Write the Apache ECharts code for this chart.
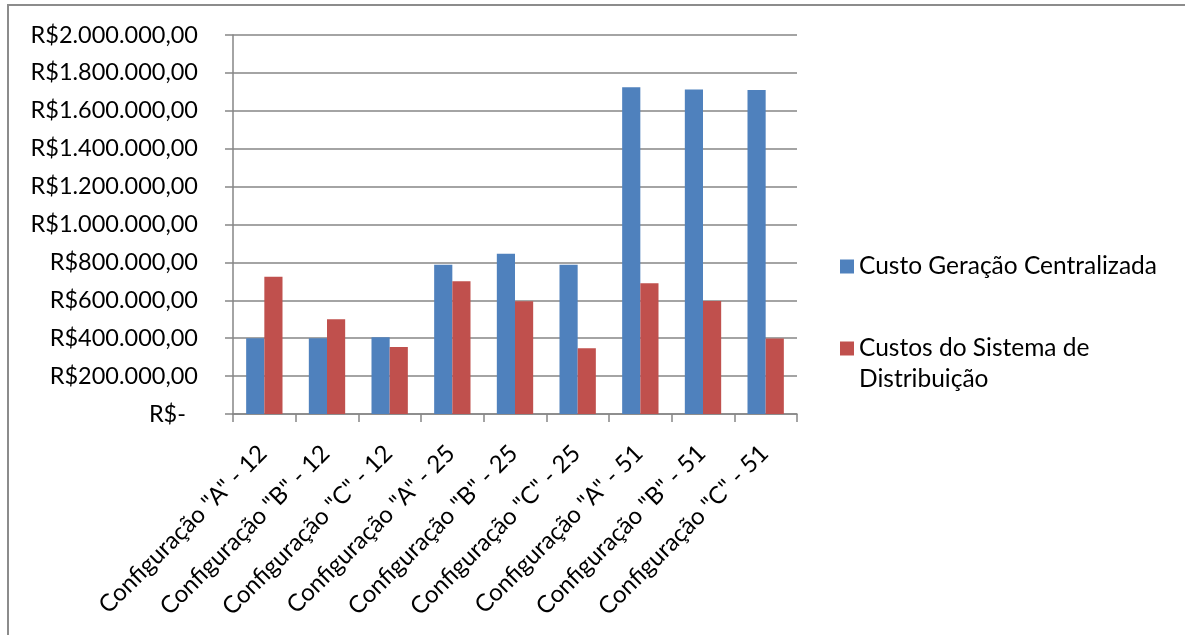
<!DOCTYPE html>
<html>
<head>
<meta charset="utf-8">
<script src="https://cdn.jsdelivr.net/npm/echarts@6/dist/echarts.min.js"></script>
<style>
  html, body { margin: 0; padding: 0; background: #fff; }
  #wrap { position: relative; width: 1185px; height: 635px; overflow: hidden; }
  #frame {
    position: absolute; left: 7px; top: 4px; right: -10px; bottom: -10px;
    border-top: 2px solid #8c8c8c; border-left: 2px solid #8c8c8c;
    pointer-events: none;
  }
  #chart { position: absolute; left: 0; top: 0; width: 1185px; height: 635px; }
</style>
</head>
<body>
<div id="wrap">
  <div id="chart"></div>
  <div id="frame"></div>
</div>
<script>
// categorias e valores
const categorias = [
  'Configuração "A" - 12', 'Configuração "B" - 12', 'Configuração "C" - 12',
  'Configuração "A" - 25', 'Configuração "B" - 25', 'Configuração "C" - 25',
  'Configuração "A" - 51', 'Configuração "B" - 51', 'Configuração "C" - 51'
]
const nomeGeracao = 'Custo Geração Centralizada'
const nomeDistribuicao = 'Custos do Sistema de Distribuição'
const custoGeracao = [400000, 400000, 405000, 787000, 845000, 787000, 1724000, 1713000, 1710000]
const custoDistribuicao = [724000, 500000, 354000, 700000, 595000, 347000, 690000, 596000, 399000]

const fonte = 'Lato'

function moeda (v) {
  if (v === 0) return 'R$-  '
  let s = String(Math.round(v))
  s = s.replace(/\B(?=(\d{3})+(?!\d))/g, '.')
  return 'R$' + s + ',00'
}

let myChart = echarts.init(document.getElementById('chart'))
let option = {
  animation: false,
  textStyle: { fontFamily: fonte, color: '#000' },
  grid: { left: 233, right: 388, top: 35, bottom: 221 },
  legend: {
    orient: 'vertical',
    left: 840,
    top: 251,
    padding: 0,
    itemGap: 20,
    itemWidth: 14,
    itemHeight: 14,
    icon: 'rect',
    textStyle: { fontFamily: fonte, fontSize: 24.5, color: '#000', lineHeight: 31 },
    // linha vazia no início para o quadrado ficar alinhado com a 1a linha
    formatter: function (name) {
      return name === nomeDistribuicao ? '\nCustos do Sistema de\nDistribuição' : name
    },
    data: [nomeGeracao, nomeDistribuicao]
  },
  xAxis: {
    type: 'category',
    data: categorias,
    axisLine: { lineStyle: { color: '#868686', width: 1.5 } },
    axisTick: { show: true, length: 8, lineStyle: { color: '#868686', width: 1.5 } },
    axisLabel: {
      rotate: 45,
      interval: 0,
      margin: 17,
      padding: [0, 14, 0, 0],
      fontFamily: fonte,
      fontSize: 24,
      color: '#000',
      verticalAlign: 'top'
    }
  },
  yAxis: {
    type: 'value',
    min: 0,
    max: 2000000,
    interval: 200000,
    axisLine: { show: true, lineStyle: { color: '#868686', width: 1.5 } },
    axisTick: { show: true, length: 8, lineStyle: { color: '#868686', width: 1.5 } },
    splitLine: { show: true, lineStyle: { color: '#868686', width: 1.5 } },
    axisLabel: {
      margin: 35,
      fontFamily: fonte,
      fontSize: 23.5,
      color: '#000',
      formatter: moeda
    }
  },
  series: [
    {
      name: nomeGeracao,
      type: 'bar',
      data: custoGeracao,
      barGap: '0%',
      barCategoryGap: '42%',
      itemStyle: { color: '#4F81BD' }
    },
    {
      name: nomeDistribuicao,
      type: 'bar',
      data: custoDistribuicao,
      itemStyle: { color: '#C0504D' }
    }
  ]
}
myChart.setOption(option, true)
</script>
</body>
</html>
